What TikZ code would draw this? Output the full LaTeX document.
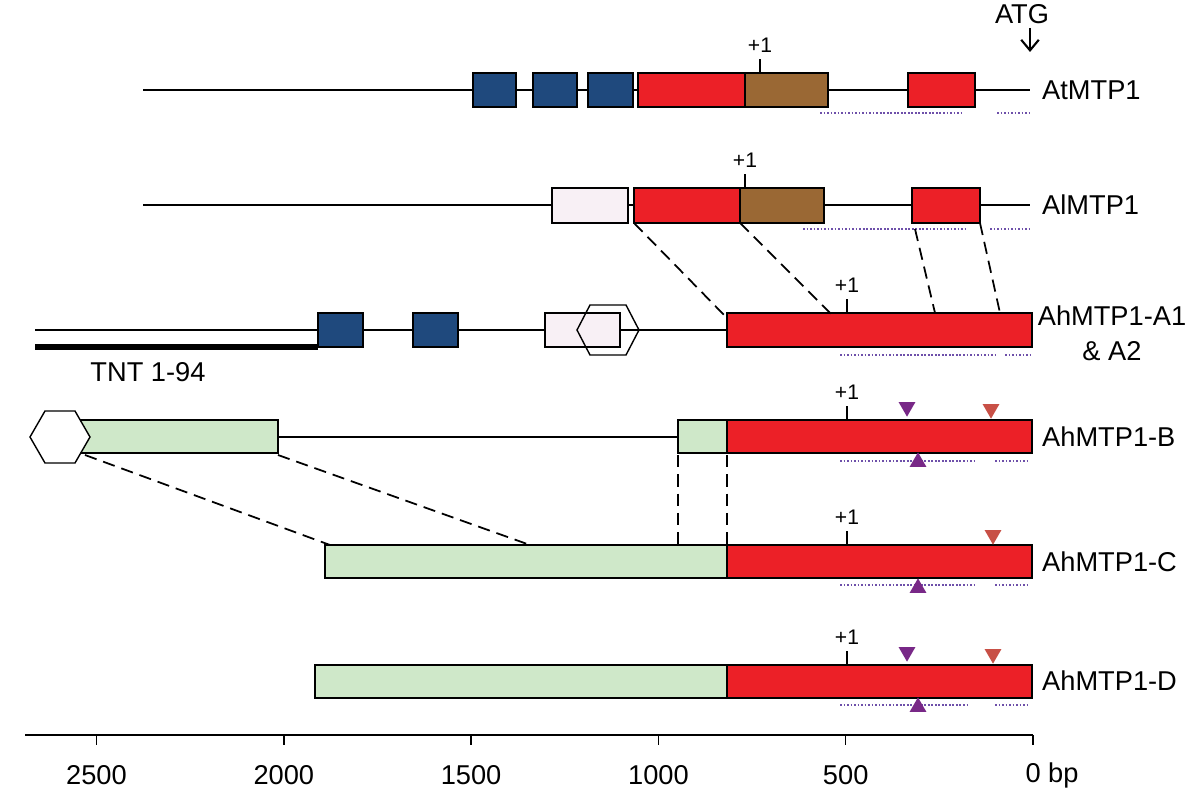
\documentclass[tikz,border=0pt]{standalone}
\usepackage{fontspec}
\setmainfont{Liberation Sans}
\usetikzlibrary{shapes.geometric, arrows.meta}
\definecolor{exblue}{RGB}{31,73,125}
\definecolor{exred}{RGB}{236,32,39}
\definecolor{exbrown}{RGB}{154,104,52}
\definecolor{exgreen}{RGB}{207,232,201}
\definecolor{expale}{RGB}{248,240,245}
\definecolor{dotpurple}{RGB}{110,80,170}
\definecolor{tripurple}{RGB}{120,40,135}
\definecolor{trired}{RGB}{200,80,70}
\tikzset{
  exon/.style={draw=black, thick},
  dotline/.style={dotpurple, densely dotted, line width=1pt},
  link/.style={line width=1pt, dash pattern=on 7pt off 4pt},
  gname/.style={anchor=west, font=\fontsize{15.5}{18}\selectfont},
  plusone/.style={font=\large},
  tri/.style={regular polygon, regular polygon sides=3, inner sep=0pt, minimum size=11pt},
}
\newcommand{\hexa}[3]{% centre x, centre y, half width
  \draw[thick, fill=white] (#1-#3,#2) -- (#1-#3/2,#2+26) -- (#1+#3/2,#2+26) -- (#1+#3,#2) -- (#1+#3/2,#2-26) -- (#1-#3/2,#2-26) -- cycle;}
\newcommand{\plus}[2]{% x, top of box y
  \draw[thick] (#1,#2) -- (#1,#2+14);
  \node[plusone] at (#1,#2+28) {+1};}
\begin{document}
\begin{tikzpicture}[x=0.02cm, y=0.02cm]
\useasboundingbox (0,-800) rectangle (1203,0);

% AtMTP1
\draw[thick] (143,-90) -- (1030,-90);
\draw[exon, fill=exblue]  (473,-73) rectangle (516,-107);
\draw[exon, fill=exblue]  (533,-73) rectangle (577,-107);
\draw[exon, fill=exblue]  (588,-73) rectangle (633,-107);
\draw[exon, fill=exred]   (638,-73) rectangle (745,-107);
\draw[exon, fill=exbrown] (745,-73) rectangle (828,-107);
\draw[exon, fill=exred]   (908,-73) rectangle (975,-107);
\plus{760}{-73}
\node[gname, anchor=center] (atg) at (1022,-14) {ATG};
\coordinate (atgend) at (1030,-52);
\draw[-{Straight Barb[length=6pt,width=10pt]}, line width=1.2pt] (1030,-28) -- (atgend);
\draw[dotline] (820,-113) -- (962,-113);
\draw[dotline] (997,-113) -- (1030,-113);
\node[gname] (at) at (1036,-90) {AtMTP1};

% AlMTP1
\draw[thick] (143,-205) -- (1030,-205);
\draw[exon, fill=expale]  (552,-188) rectangle (628,-223);
\draw[exon, fill=exred]   (634,-188) rectangle (740,-223);
\draw[exon, fill=exbrown] (740,-188) rectangle (824,-223);
\draw[exon, fill=exred]   (912,-188) rectangle (980,-223);
\plus{745}{-188}
\draw[dotline] (803,-229) -- (965,-229);
\draw[dotline] (990,-229) -- (1030,-229);
\node[gname] (al) at (1036,-205) {AlMTP1};

% AhMTP1-A1 & A2
\draw[thick] (35,-330) -- (318,-330);
\draw[line width=3pt] (35,-347) -- (318,-347);
\node[gname, anchor=center] (tnt) at (148,-372) {TNT 1-94};
\draw[thick] (318,-330) -- (727,-330);
\draw[exon, fill=exblue]  (318,-313) rectangle (363,-347);
\draw[exon, fill=exblue]  (413,-313) rectangle (458,-347);
\draw[exon, fill=expale]  (545,-313) rectangle (620,-347);
\draw[thick] (577,-330) -- (590,-305) -- (626,-305) -- (639,-330) -- (626,-355) -- (590,-355) -- cycle;
\draw[exon, fill=exred]   (727,-313) rectangle (1032,-347);
\plus{847}{-313}
\draw[dotline] (840,-355) -- (995,-355);
\draw[dotline] (1005,-355) -- (1030,-355);
\node[align=center, font=\fontsize{15.5}{20}\selectfont] (aha) at (1112,-333) {AhMTP1-A1\\\& A2};
\draw[link] (634,-223) -- (727,-318);
\draw[link] (740,-223) -- (835,-318);
\draw[link] (915,-229) -- (935,-313);
\draw[link] (980,-223) -- (1000,-313);

% AhMTP1-B
\draw[thick] (278,-437) -- (678,-437);
\draw[exon, fill=exgreen] (80,-420) rectangle (278,-453);
\hexa{60}{-437}{30}
\draw[exon, fill=exgreen] (678,-420) rectangle (727,-453);
\draw[exon, fill=exred]   (727,-420) rectangle (1032,-453);
\plus{847}{-420}
\node[tri, fill=tripurple, shape border rotate=180] at (907,-407) {};
\node[tri, fill=trired, shape border rotate=180] at (991,-409) {};
\draw[dotline] (840,-461) -- (975,-461);
\draw[dotline] (995,-461) -- (1030,-461);
\node[tri, fill=tripurple] at (918,-462) {};
\node[gname] (ahb) at (1036,-437) {AhMTP1-B};

% AhMTP1-C
\draw[exon, fill=exgreen] (325,-545) rectangle (727,-578);
\draw[exon, fill=exred]   (727,-545) rectangle (1032,-578);
\plus{847}{-545}
\node[tri, fill=trired, shape border rotate=180] at (993,-535) {};
\draw[dotline] (840,-585) -- (975,-585);
\draw[dotline] (995,-585) -- (1030,-585);
\node[tri, fill=tripurple] at (918,-588) {};
\node[gname] (ahc) at (1036,-562) {AhMTP1-C};
\draw[link] (85,-455) -- (330,-545);
\draw[link] (278,-455) -- (530,-545);
\draw[link] (678,-455) -- (678,-545);
\draw[link] (727,-455) -- (727,-545);

% AhMTP1-D
\draw[exon, fill=exgreen] (315,-665) rectangle (727,-698);
\draw[exon, fill=exred]   (727,-665) rectangle (1032,-698);
\plus{847}{-665}
\node[tri, fill=tripurple, shape border rotate=180] at (907,-652) {};
\node[tri, fill=trired, shape border rotate=180] at (993,-654) {};
\draw[dotline] (840,-705) -- (970,-705);
\draw[dotline] (995,-705) -- (1030,-705);
\node[tri, fill=tripurple] at (918,-707) {};
\node[gname] (ahd) at (1036,-681) {AhMTP1-D};

% scale
\draw[thick] (25,-735) -- (1033,-735);
\foreach \bp in {0,500,...,2500}
  \draw[thick] (1033-0.3746*\bp,-735) -- (1033-0.3746*\bp,-745);
\foreach \bp in {500,1000,...,2500}
  \node[gname, anchor=center] at (1033-0.3746*\bp,-775) {\bp};
\node[gname, anchor=center] (bp) at (1052,-775) {0 bp};
\end{tikzpicture}
\end{document}
